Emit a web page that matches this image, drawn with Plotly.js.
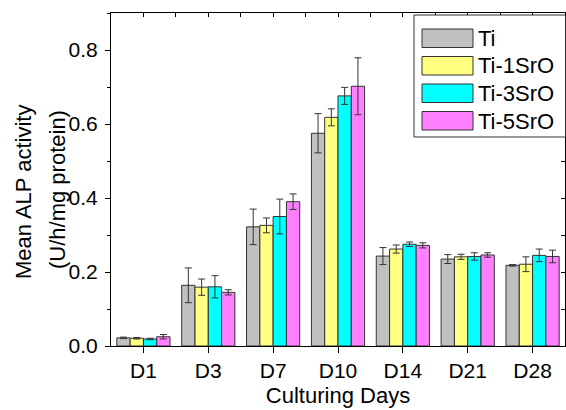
<!DOCTYPE html>
<html>
<head>
<meta charset="utf-8">
<script src="https://cdn.plot.ly/plotly-3.0.1.min.js"></script>
<style>html,body{margin:0;padding:0;background:#fff;}#chart{width:566px;height:410px;}</style>
</head>
<body>
<div id="chart"></div>
<script>
var days = ["D1", "D3", "D7", "D10", "D14", "D21", "D28"];
var seriesNames = ["Ti", "Ti-1SrO", "Ti-3SrO", "Ti-5SrO"];
var seriesColors = ["#C0C0C0", "#FFFF80", "#00FFFF", "#FF80FF"];

var tiVals   = [0.022, 0.164, 0.322, 0.575, 0.243, 0.235, 0.218];
var tiErr    = [0.002, 0.047, 0.048, 0.053, 0.023, 0.012, 0.002];
var sr1Vals  = [0.021, 0.159, 0.326, 0.618, 0.262, 0.241, 0.221];
var sr1Err   = [0.002, 0.022, 0.020, 0.023, 0.011, 0.007, 0.020];
var sr3Vals  = [0.019, 0.160, 0.350, 0.676, 0.275, 0.242, 0.245];
var sr3Err   = [0.002, 0.030, 0.047, 0.023, 0.006, 0.010, 0.017];
var sr5Vals  = [0.025, 0.145, 0.390, 0.702, 0.272, 0.246, 0.242];
var sr5Err   = [0.006, 0.007, 0.021, 0.077, 0.007, 0.006, 0.017];

var allVals = [tiVals, sr1Vals, sr3Vals, sr5Vals];
var allErr = [tiErr, sr1Err, sr3Err, sr5Err];

var FONT = "Liberation Sans, Arial, sans-serif";
var W = 566, H = 410;
var M = {l: 111, r: 1, t: 13, b: 64};
var plotW = W - M.l - M.r, plotH = H - M.t - M.b;
function px(x) { return (x - M.l) / plotW; }
function py(y) { return (H - M.b - y) / plotH; }

var traces = [];
for (var i = 0; i < seriesNames.length; i++) {
  traces.push({
    type: "bar",
    name: seriesNames[i],
    x: days,
    y: allVals[i],
    marker: {color: seriesColors[i], line: {color: "#333333", width: 1}},
    error_y: {type: "data", array: allErr[i], visible: true, color: "#333333", thickness: 1, width: 3.5},
    showlegend: false,
    hoverinfo: "x+y"
  });
}
// dummy trace for the top/right frame axes
traces.push({type: "scatter", x: [null], y: [null], xaxis: "x2", yaxis: "y2", showlegend: false, hoverinfo: "skip"});

var shapes = [];
var annotations = [];
// legend box
shapes.push({type: "rect", xref: "paper", yref: "paper", x0: px(414), x1: px(565.5), y0: py(137), y1: py(15),
  line: {color: "#333333", width: 1}, fillcolor: "#ffffff", layer: "above"});
for (var k = 0; k < seriesNames.length; k++) {
  var rowTop = 29 + 27.5 * k;
  shapes.push({type: "rect", xref: "paper", yref: "paper", x0: px(422), x1: px(473), y0: py(rowTop + 18.5), y1: py(rowTop),
    line: {color: "#333333", width: 1}, fillcolor: seriesColors[k], layer: "above"});
  annotations.push({xref: "paper", yref: "paper", x: px(476), y: py(rowTop + 9.5), xanchor: "left", yanchor: "middle",
    text: seriesNames[k], showarrow: false, font: {family: FONT, size: 22, color: "#000"}});
}
// y title (two lines)
annotations.push({xref: "paper", yref: "paper", x: px(23), y: py(192), xanchor: "center", yanchor: "middle",
  text: "Mean ALP activity", textangle: -90, showarrow: false, font: {family: FONT, size: 22, color: "#000"}});
annotations.push({xref: "paper", yref: "paper", x: px(57), y: py(190), xanchor: "center", yanchor: "middle",
  text: "(U/h/mg protein)", textangle: -90, showarrow: false, font: {family: FONT, size: 22, color: "#000"}});

var layout = {
  width: W, height: H,
  margin: M,
  paper_bgcolor: "#fff", plot_bgcolor: "#fff",
  barmode: "group", bargap: 0.18, bargroupgap: 0,
  font: {family: FONT, size: 21, color: "#000"},
  xaxis: {
    type: "category", range: [-0.5, 6.5],
    showline: true, linecolor: "#000", linewidth: 1,
    ticks: "outside", ticklen: 6, tickwidth: 1, tickcolor: "#000",
    tickfont: {family: FONT, size: 21, color: "#000"},
    showgrid: false, zeroline: false,
    title: {text: "Culturing Days", font: {family: FONT, size: 22, color: "#000"}, standoff: 6}
  },
  yaxis: {
    range: [0, 0.9], dtick: 0.2, tick0: 0, tickformat: ".1f",
    showline: true, linecolor: "#000", linewidth: 1,
    ticks: "outside", ticklen: 5, tickwidth: 1, tickcolor: "#000",
    ticklabelstandoff: 3,
    minor: {dtick: 0.1, ticks: "outside", ticklen: 3, tickcolor: "#000"},
    tickfont: {family: FONT, size: 21, color: "#000"},
    showgrid: false, zeroline: false
  },
  xaxis2: {
    overlaying: "x", side: "top", anchor: "y2", range: [-0.5, 6.5], dtick: 0.5, tick0: -0.5,
    showline: true, linecolor: "#000", linewidth: 1,
    ticks: "inside", ticklen: 4, tickcolor: "#000", showticklabels: false,
    showgrid: false, zeroline: false, fixedrange: true
  },
  yaxis2: {
    overlaying: "y", side: "right", anchor: "x2", range: [0, 0.9], dtick: 0.1, tick0: 0,
    showline: true, linecolor: "#000", linewidth: 1,
    ticks: "inside", ticklen: 4, tickcolor: "#000", showticklabels: false,
    showgrid: false, zeroline: false, fixedrange: true
  },
  shapes: shapes,
  annotations: annotations
};

Plotly.newPlot("chart", traces, layout, {displayModeBar: false, staticPlot: true});
</script>
</body>
</html>
